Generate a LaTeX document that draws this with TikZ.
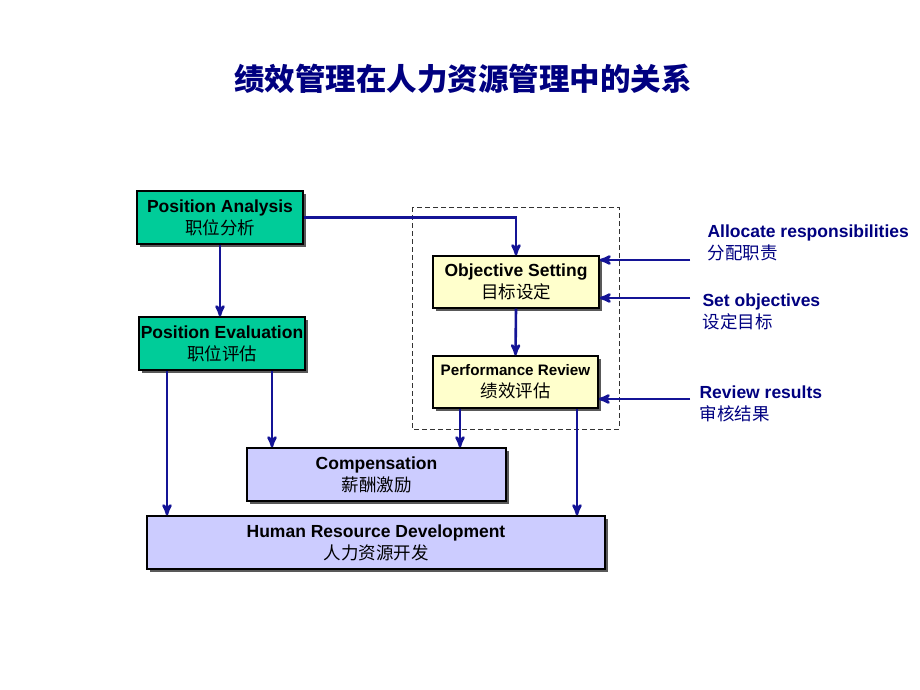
\documentclass[tikz,border=0pt]{standalone}
\usepackage{fontspec}
\setmainfont{Liberation Sans}
\newfontfamily\cjk{Noto Sans CJK SC}
\usepackage{tikz}
\usetikzlibrary{shadows,arrows}

\definecolor{boxGreen}{RGB}{0,204,153}
\definecolor{boxYellow}{RGB}{255,255,204}
\definecolor{boxLilac}{RGB}{204,204,255}
\definecolor{lineBlue}{RGB}{20,20,150}
\definecolor{textBlue}{RGB}{0,0,128}

\begin{document}
\begin{tikzpicture}[x=1pt,y=-1pt,>=stealth',
  box/.style={draw=black,line width=1.4pt,inner sep=0pt,align=center,
    font=\fontsize{17.5}{22}\selectfont\bfseries,
    drop shadow={shadow xshift=3pt,shadow yshift=-3pt,fill=black!65,opacity=1}},
  link/.style={->,draw=lineBlue,line width=2.6pt},
  inlabel/.style={anchor=west,align=left,text=textBlue,font=\fontsize{17.5}{22}\selectfont\bfseries}]
\useasboundingbox (0,0) rectangle (920,690);
% title
\node (title) at (463,79) {\fontsize{30.5}{34}\selectfont\cjk\bfseries\color{textBlue}绩效管理在人力资源管理中的关系};
% dashed frame
\draw[dash pattern=on 5pt off 3pt,line width=1pt,color=black!80] (412,207) rectangle (619,429);
% boxes
\node[box,fill=boxGreen,minimum width=166,minimum height=53] (pa) at (220,217.5) {Position Analysis\\{\mdseries\cjk 职位分析}};
\node[box,fill=boxGreen,minimum width=166,minimum height=53] (pe) at (222,343.5) {Position Evaluation\\{\mdseries\cjk 职位评估}};
\node[box,fill=boxYellow,minimum width=166,minimum height=52] (os) at (516,282) {Objective Setting\\{\mdseries\cjk 目标设定}};
\node[box,fill=boxYellow,minimum width=165,minimum height=52] (pr) at (515.5,382) {{\fontsize{15.2}{22}\selectfont Performance Review}\\{\mdseries\cjk 绩效评估}};
\node[box,fill=boxLilac,minimum width=259,minimum height=53] (comp) at (376.5,474.5) {Compensation\\{\mdseries\cjk 薪酬激励}};
\node[box,fill=boxLilac,minimum width=458,minimum height=53] (hrd) at (376,542.5) {Human Resource Development\\{\mdseries\cjk 人力资源开发}};
% inputs on the right
\node[inlabel] (alloc) at (704,243) {Allocate responsibilities\\{\cjk\mdseries 分配职责}};
\node[inlabel] (setobj) at (699,311.5) {Set objectives\\{\cjk\mdseries 设定目标}};
\node[inlabel] (review) at (696,403.5) {Review results\\{\cjk\mdseries 审核结果}};
\coordinate (in1) at (690,260);
\coordinate (in2) at (690,298);
\coordinate (in3) at (690,399);
% connectors
\draw[link] (pa.east) -| (os.north);
\draw[link] (pa.south) -- (pa.south |- pe.north);
\draw[link] (os.south) -- (pr.north);
\draw[link] ([xshift=-55pt]pe.south) -- ([xshift=-55pt]pe.south |- hrd.north);
\draw[link] ([xshift=50pt]pe.south) -- ([xshift=50pt]pe.south |- comp.north);
\draw[link] ([xshift=-55.5pt]pr.south) -- ([xshift=-55.5pt]pr.south |- comp.north);
\draw[link] ([xshift=61.5pt]pr.south) -- ([xshift=61.5pt]pr.south |- hrd.north);
\foreach \c/\b in {in1/os,in2/os,in3/pr}
  \draw[link] (\c) -- (\c -| \b.east);
\end{tikzpicture}
\end{document}
